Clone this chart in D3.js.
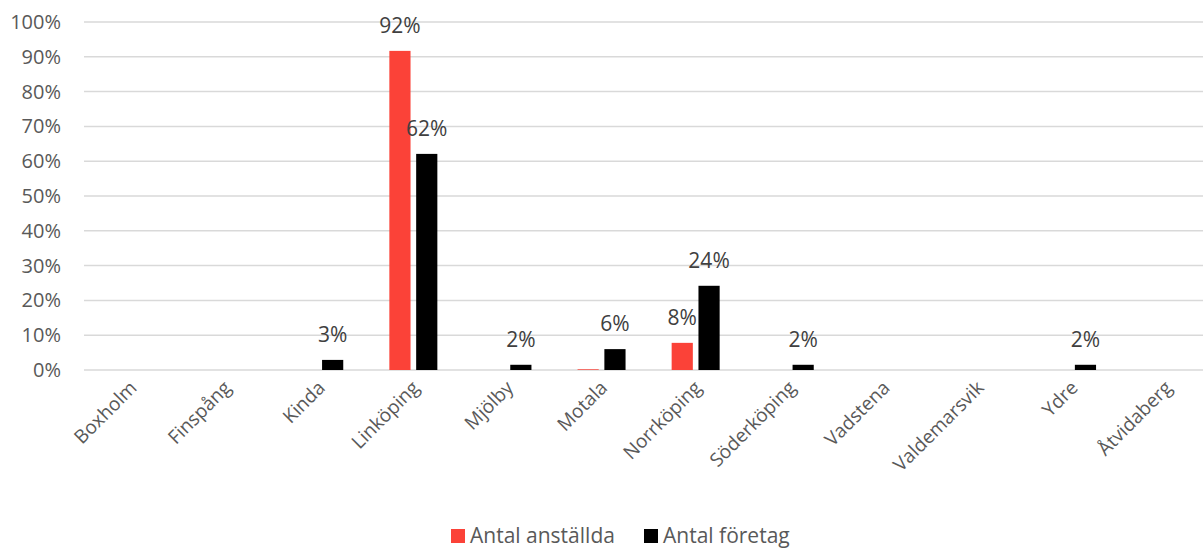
<!DOCTYPE html>
<html>
<head>
<meta charset="utf-8">
<script src="https://cdn.jsdelivr.net/npm/d3@7"></script>
<style>
  html, body { margin: 0; padding: 0; background: #fff; }
  svg { display: block; font-family: "Open Sans", "Noto Sans", sans-serif; }
</style>
</head>
<body>
<svg id="chart" width="1203" height="550"></svg>
<script>
// Kommuner i Östergötland
const categories = ["Boxholm", "Finspång", "Kinda", "Linköping", "Mjölby", "Motala",
  "Norrköping", "Söderköping", "Vadstena", "Valdemarsvik", "Ydre", "Åtvidaberg"];
// Andel (%) per kommun
const anstallda = [0, 0, 0, 91.7, 0, 0.2, 7.8, 0, 0, 0, 0, 0];
const foretag   = [0, 0, 2.9, 62.1, 1.5, 6.0, 24.2, 1.5, 0, 0, 1.5, 0];
const seriesNames = ["Antal anställda", "Antal företag"];
const seriesColors = ["#fb4238", "#000000"];
const yTicks = [0, 10, 20, 30, 40, 50, 60, 70, 80, 90, 100];

const svg = d3.select("#chart");
const plot = { left: 84, top: 22, bottom: 370, step: 94.1 };

const x = d3.scaleBand()
  .domain(categories)
  .range([plot.left, plot.left + plot.step * categories.length])
  .padding(0);

const y = d3.scaleLinear().domain([0, 100]).range([plot.bottom, plot.top]);

const xSub = d3.scaleBand()
  .domain(seriesNames)
  .range([x.bandwidth() / 2 - 24, x.bandwidth() / 2 + 24])
  .paddingInner(0.21);

// Gridlines
svg.append("g")
  .selectAll("line")
  .data(yTicks)
  .join("line")
  .attr("x1", plot.left)
  .attr("x2", 1203)
  .attr("y1", d => y(d))
  .attr("y2", d => y(d))
  .attr("stroke", "#d9d9d9")
  .attr("stroke-width", 1.5);

// Y axis labels
const yAxis = d3.axisLeft(y).tickValues(yTicks).tickFormat(d => d + "%").tickSize(0).tickPadding(0);
const gy = svg.append("g").attr("transform", "translate(61,0)").call(yAxis);
gy.select(".domain").remove();
gy.selectAll("text")
  .attr("fill", "#595959")
  .attr("font-size", 20)
  .attr("font-family", "'Open Sans', 'Noto Sans', sans-serif");

// X axis labels, rotated
const xAxis = d3.axisBottom(x).tickSize(0).tickPadding(0);
const gx = svg.append("g").attr("transform", `translate(0,${plot.bottom})`).call(xAxis);
gx.select(".domain").remove();
gx.selectAll("text")
  .attr("fill", "#595959")
  .attr("font-size", 19)
  .attr("font-family", "'Open Sans', 'Noto Sans', sans-serif")
  .attr("text-anchor", "end")
  .attr("dy", null)
  .attr("y", 0)
  .attr("transform", "translate(7,19) rotate(-45)");

// Bars
const rows = categories.map((c, i) => ({ cat: c, values: [anstallda[i], foretag[i]] }));
const groups = svg.append("g")
  .selectAll("g")
  .data(rows)
  .join("g")
  .attr("transform", d => `translate(${x(d.cat)},0)`);

const cells = groups.selectAll("g")
  .data(d => d.values.map((v, k) => ({ v, k })))
  .join("g");

cells.filter(d => d.v > 0)
  .append("rect")
  .attr("x", d => xSub(seriesNames[d.k]))
  .attr("width", xSub.bandwidth())
  .attr("y", d => y(d.v))
  .attr("height", d => y(0) - y(d.v))
  .attr("fill", d => seriesColors[d.k]);

// Value labels
cells.filter(d => d.v >= 1)
  .append("text")
  .attr("x", d => xSub(seriesNames[d.k]) + xSub.bandwidth() / 2)
  .attr("y", d => y(d.v) - 18)
  .attr("text-anchor", "middle")
  .attr("fill", "#404040")
  .attr("font-size", 21)
  .text(d => Math.round(d.v) + "%");

// Legend
const legend = svg.append("g");
const legendItems = [{ x: 451, name: seriesNames[0], color: seriesColors[0] },
                     { x: 644, name: seriesNames[1], color: seriesColors[1] }];
const li = legend.selectAll("g").data(legendItems).join("g")
  .attr("transform", d => `translate(${d.x},529)`);
li.append("rect").attr("width", 14).attr("height", 14).attr("fill", d => d.color);
li.append("text")
  .attr("x", 19)
  .attr("y", 14)
  .attr("fill", "#595959")
  .attr("font-size", 21)
  .text(d => d.name);
</script>
</body>
</html>
